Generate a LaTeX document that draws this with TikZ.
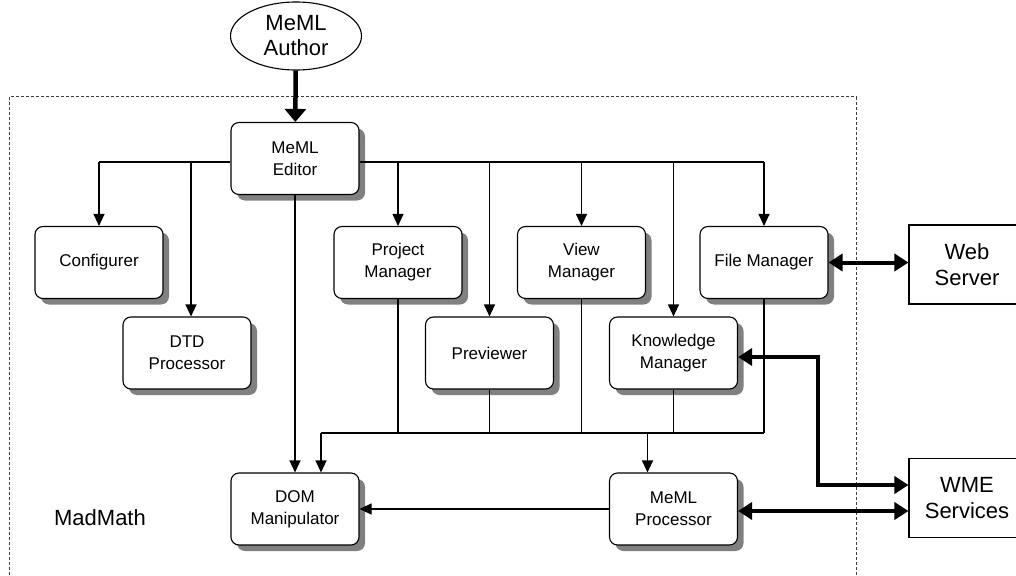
\documentclass[tikz,border=0pt]{standalone}
\usepackage{fontspec}
\setmainfont{Liberation Sans}
\usetikzlibrary{arrows.meta,shapes.geometric,shadows}

\begin{document}
\begin{tikzpicture}[x=1pt,y=-1pt,
  comp/.style={draw, line width=1.1pt, rounded corners=8pt, fill=white,
    minimum width=128pt, minimum height=72pt, inner sep=0pt, align=center,
    font=\fontsize{17}{22}\selectfont,
    drop shadow={shadow xshift=6pt, shadow yshift=-6pt, fill=black!50, opacity=1}},
  ext/.style={draw, line width=1.1pt, fill=white, minimum width=116pt,
    minimum height=79pt, inner sep=0pt, align=center,
    font=\fontsize{22}{26}\selectfont},
  link/.style={line width=1.1pt},
  arr/.style={link, -{Triangle[length=12pt,width=11pt]}},
  bigarr/.style={line width=4pt,
    arrows={Triangle[length=14pt,width=17pt]-Triangle[length=14pt,width=17pt]}},
]
\useasboundingbox (0,0) rectangle (1016,575);

% system boundary
\draw[line width=1pt, black!75, dash pattern=on 3pt off 2pt]
  (9,575) -- (9,97) -- (856,97) -- (856,575);
\node[font=\fontsize{22}{26}\selectfont] (madmath) at (100,518) {MadMath};

% actor
\node[ellipse, draw, line width=1.1pt, fill=white, minimum width=131pt,
  minimum height=68pt, inner sep=0pt, align=center,
  font=\fontsize{22}{25}\selectfont] (author) at (296,36) {MeML\\Author};

% components
\node[comp] (editor)  at (295,158.5) {MeML\\Editor};
\node[comp] (config)  at (99,262.5)  {Configurer};
\node[comp] (dtd)     at (187,353)   {DTD\\Processor};
\node[comp] (project) at (398,262.5) {Project\\Manager};
\node[comp] (preview) at (489.5,353) {Previewer};
\node[comp] (view)    at (581.5,262.5) {View\\Manager};
\node[comp] (know)    at (673.5,353) {Knowledge\\Manager};
\node[comp] (file)    at (764,262.5) {File Manager};
\node[comp] (dom)     at (295,509)   {DOM\\Manipulator};
\node[comp] (proc)    at (673.5,509) {MeML\\Processor};

% external systems (right edges run off the page)
\begin{scope}
\clip (0,0) rectangle (1016,575);
\node[ext] (web) at (967,264.5) {Web\\Server};
\node[ext] (wme) at (967,498)   {WME\\Services};
\end{scope}

% author to editor
\draw[line width=4.5pt, -{Triangle[length=13pt,width=21pt]}] (author) -- (editor);

% editor fan-out bus
\coordinate (bus) at (0,162);
\draw[link] (config.north |- bus) -- (editor.west |- bus);
\draw[link] (editor.east |- bus) -- (file.north |- bus);
\draw[arr] (config.north |- bus) -- (config.north);
\draw[arr] ([xshift=4pt]dtd.north |- bus) -- ([xshift=4pt]dtd.north);
\draw[arr] (project.north |- bus) -- (project.north);
\draw[arr] (preview.north |- bus) -- (preview.north);
\draw[arr] (view.north |- bus) -- (view.north);
\draw[arr] (know.north |- bus) -- (know.north);
\draw[arr] (file.north |- bus) -- (file.north);
\draw[arr] (editor.south) -- (dom.north);

% collector bus towards DOM and processor
\coordinate (lbus) at (0,433);
\draw[link] (project.south) -- (project.south |- lbus);
\draw[link] (preview.south) -- (preview.south |- lbus);
\draw[link] (view.south) -- (view.south |- lbus);
\draw[link] (know.south) -- (know.south |- lbus);
\draw[link] (file.south) -- (file.south |- lbus);
\draw[link] ([xshift=26pt]dom.north |- lbus) -- (file.south |- lbus);
\draw[arr] ([xshift=26pt]dom.north |- lbus) -- ([xshift=26pt]dom.north);
\draw[arr] ([xshift=-26pt]proc.north |- lbus) -- ([xshift=-26pt]proc.north);
\draw[arr] (proc.west) -- (proc.west -| dom.east);

% external links
\draw[bigarr] (file.east) -- (file.east -| web.west);
\draw[bigarr] ([yshift=-4pt]know.east) -- ++(80pt,0) |- ([yshift=13pt]wme.west);
\draw[bigarr] ([yshift=-2pt]proc.east) -- ([yshift=-2pt]proc.east -| wme.west);
\end{tikzpicture}
\end{document}
